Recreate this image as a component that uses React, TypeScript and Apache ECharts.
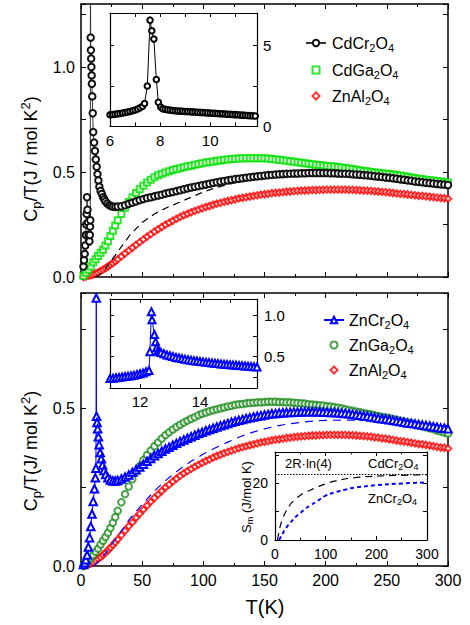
import React, { useEffect, useRef } from "react";
import * as echarts from "echarts";

// ---------------- data ----------------
const lowTemps = [2, 4, 6, 8, 10, 12, 14, 16, 18, 20, 22, 24, 26, 28];
const highTemps = [
  30, 33, 36, 39, 42, 45, 48, 51, 54, 57, 60, 63, 66, 69, 72, 75, 78, 81, 84, 87, 90, 93, 96, 99,
  102, 105, 108, 111, 114, 117, 120, 123, 126, 129, 132, 135, 138, 141, 144, 147, 150, 153, 156,
  159, 162, 165, 168, 171, 174, 177, 180, 183, 186, 189, 192, 195, 198, 201, 204, 207, 210, 213,
  216, 219, 222, 225, 228, 231, 234, 237, 240, 243, 246, 249, 252, 255, 258, 261, 264, 267, 270,
  273, 276, 279, 282, 285, 288, 291, 294, 297, 300,
];

const cdGaLow = [0.005, 0.02, 0.035, 0.05, 0.07, 0.085, 0.1, 0.115, 0.13, 0.15, 0.17, 0.195, 0.22, 0.245];
const cdGaHigh = [
  0.27, 0.30, 0.33, 0.357, 0.38, 0.40, 0.418, 0.435, 0.45, 0.463,
  0.475, 0.484, 0.492, 0.498, 0.504, 0.51, 0.514, 0.518, 0.523, 0.527,
  0.53, 0.534, 0.538, 0.542, 0.545, 0.548, 0.55, 0.553, 0.555, 0.558,
  0.56, 0.562, 0.563, 0.564, 0.565, 0.566, 0.566, 0.566, 0.566, 0.566,
  0.565, 0.564, 0.562, 0.56, 0.558, 0.556, 0.554, 0.551, 0.549, 0.546,
  0.544, 0.542, 0.539, 0.537, 0.535, 0.533, 0.531, 0.529, 0.527, 0.526,
  0.524, 0.522, 0.519, 0.517, 0.514, 0.511, 0.508, 0.505, 0.503, 0.5,
  0.498, 0.496, 0.494, 0.492, 0.49, 0.488, 0.486, 0.483, 0.48, 0.477,
  0.474, 0.471, 0.468, 0.466, 0.463, 0.461, 0.459, 0.457, 0.455, 0.452,
  0.45,
];

const znAlLow = [0, 0.002, 0.005, 0.008, 0.012, 0.017, 0.022, 0.028, 0.035, 0.042, 0.05, 0.058, 0.066, 0.075];
const znAlHigh = [
  0.084, 0.098, 0.112, 0.126, 0.139, 0.153, 0.166, 0.179, 0.192, 0.204,
  0.216, 0.227, 0.238, 0.249, 0.258, 0.268, 0.277, 0.286, 0.294, 0.301,
  0.308, 0.315, 0.321, 0.327, 0.333, 0.338, 0.344, 0.349, 0.353, 0.358,
  0.362, 0.366, 0.37, 0.374, 0.377, 0.38, 0.383, 0.386, 0.389, 0.392,
  0.394, 0.396, 0.399, 0.401, 0.402, 0.404, 0.406, 0.407, 0.409, 0.41,
  0.411, 0.412, 0.413, 0.414, 0.414, 0.415, 0.415, 0.416, 0.416, 0.416,
  0.416, 0.416, 0.416, 0.415, 0.415, 0.414, 0.413, 0.412, 0.411, 0.41,
  0.408, 0.407, 0.405, 0.404, 0.402, 0.4, 0.398, 0.396, 0.395, 0.393,
  0.391, 0.389, 0.387, 0.386, 0.384, 0.382, 0.38, 0.378, 0.376, 0.375,
  0.373,
];

const znGaLow = [0, 0.005, 0.015, 0.025, 0.035, 0.045, 0.055, 0.068, 0.08, 0.092, 0.105, 0.12, 0.137, 0.155];
const znGaHigh = [
  0.175, 0.202, 0.228, 0.252, 0.275, 0.297, 0.317, 0.336, 0.352, 0.366,
  0.38, 0.392, 0.404, 0.415, 0.424, 0.433, 0.441, 0.448, 0.455, 0.461,
  0.467, 0.472, 0.478, 0.483, 0.487, 0.491, 0.494, 0.497, 0.5, 0.503,
  0.506, 0.508, 0.511, 0.513, 0.514, 0.516, 0.517, 0.518, 0.519, 0.519,
  0.52, 0.521, 0.521, 0.521, 0.52, 0.52, 0.519, 0.519, 0.518, 0.517,
  0.516, 0.515, 0.513, 0.512, 0.511, 0.51, 0.509, 0.507, 0.506, 0.504,
  0.502, 0.5, 0.497, 0.495, 0.492, 0.49, 0.488, 0.485, 0.483, 0.481,
  0.478, 0.476, 0.473, 0.471, 0.469, 0.466, 0.464, 0.461, 0.458, 0.455,
  0.452, 0.449, 0.446, 0.443, 0.44, 0.437, 0.434, 0.43, 0.427, 0.423,
  0.42,
];

const cdCrLowT = [
  2, 2.5, 3, 3.5, 4, 4.3, 4.6, 4.9, 5.3, 5.7, 6.1, 6.5, 6.9, 7.2, 7.4, 7.6, 7.7, 7.9, 8.1, 8.3,
  8.5, 8.7, 8.9, 9.2, 9.6, 10, 10.7, 11.4, 12.1, 12.8, 13.5, 14.2, 15, 16, 17, 18, 19, 20, 21.5, 23,
  24.5, 26, 28, 30,
];
const cdCrLowCp = [
  0.05, 0.08, 0.11, 0.15, 0.2, 0.25, 0.3, 0.38, 0.32, 0.26, 0.2, 0.17, 0.17, 0.2, 0.24, 0.27, 1.6,
  1.14, 1.08, 1.04, 1.0, 0.96, 0.92, 0.86, 0.78, 0.69, 0.64, 0.6, 0.56, 0.525, 0.49, 0.46, 0.43, 0.41,
  0.395, 0.38, 0.37, 0.36, 0.35, 0.342, 0.338, 0.335, 0.334, 0.335,
];
const cdCrHighCp = [
  0.337, 0.342, 0.348, 0.354, 0.36, 0.366, 0.371, 0.376, 0.38, 0.384,
  0.388, 0.392, 0.397, 0.401, 0.405, 0.409, 0.413, 0.418, 0.422, 0.426,
  0.43, 0.433, 0.437, 0.44, 0.444, 0.448, 0.451, 0.454, 0.457, 0.46,
  0.463, 0.466, 0.468, 0.47, 0.473, 0.475, 0.477, 0.479, 0.481, 0.483,
  0.485, 0.486, 0.488, 0.489, 0.49, 0.491, 0.492, 0.493, 0.493, 0.494,
  0.494, 0.495, 0.495, 0.495, 0.495, 0.495, 0.495, 0.494, 0.494, 0.493,
  0.492, 0.492, 0.491, 0.489, 0.488, 0.487, 0.485, 0.484, 0.482, 0.48,
  0.478, 0.476, 0.474, 0.472, 0.47, 0.468, 0.465, 0.463, 0.46, 0.458,
  0.455, 0.453, 0.451, 0.449, 0.447, 0.445, 0.443, 0.441, 0.44, 0.438,
];

const znCrLowT = [
  2, 3, 4, 5, 6, 7, 8, 9, 10, 11, 11.7, 12.2, 12.5, 12.7, 13.1, 13.6, 14.2, 14.9, 15.7, 16.6,
  17.6, 18.8, 20.2, 22, 24, 26, 28, 30,
];
const znCrLowCp = [
  0.005, 0.01, 0.02, 0.035, 0.06, 0.09, 0.125, 0.165, 0.205, 0.245, 0.28, 0.31, 0.85, 0.475, 0.455,
  0.435, 0.41, 0.385, 0.36, 0.34, 0.32, 0.303, 0.29, 0.28, 0.273, 0.27, 0.27, 0.271,
];
const znCrHighCp = [
  0.276, 0.282, 0.289, 0.297, 0.305, 0.314, 0.323, 0.332, 0.341, 0.35,
  0.357, 0.364, 0.371, 0.377, 0.383, 0.389, 0.395, 0.4, 0.405, 0.41,
  0.415, 0.42, 0.424, 0.429, 0.433, 0.437, 0.441, 0.445, 0.448, 0.452,
  0.456, 0.459, 0.462, 0.465, 0.468, 0.47, 0.473, 0.475, 0.477, 0.479,
  0.481, 0.483, 0.484, 0.485, 0.486, 0.487, 0.487, 0.488, 0.488, 0.489,
  0.489, 0.489, 0.489, 0.489, 0.489, 0.488, 0.488, 0.487, 0.487, 0.486,
  0.485, 0.484, 0.483, 0.481, 0.48, 0.478, 0.476, 0.475, 0.473, 0.471,
  0.469, 0.467, 0.466, 0.464, 0.462, 0.46, 0.458, 0.456, 0.454, 0.453,
  0.451, 0.449, 0.447, 0.446, 0.444, 0.442, 0.44, 0.438, 0.437, 0.435,
];

const cdCrCalcT = [12, 15, 20, 25, 30, 35, 40, 50, 60, 70, 80, 90, 100, 110, 120, 130, 140, 150, 160, 170, 180, 200, 220, 240, 260, 280, 300];
const cdCrCalcCp = [0, 0.01, 0.04, 0.08, 0.12, 0.16, 0.2, 0.26, 0.3, 0.33, 0.355, 0.38, 0.405, 0.425, 0.44, 0.455, 0.465, 0.473, 0.48, 0.485, 0.49, 0.494, 0.49, 0.48, 0.466, 0.452, 0.438];
const znCrCalcT = [10, 12, 15, 20, 25, 30, 35, 40, 50, 60, 70, 80, 90, 100, 110, 120, 130, 140, 150, 160, 170, 180, 190, 200, 220, 240, 260, 280, 300];
const znCrCalcCp = [0, 0.005, 0.018, 0.04, 0.068, 0.095, 0.122, 0.15, 0.195, 0.238, 0.274, 0.305, 0.332, 0.355, 0.375, 0.393, 0.41, 0.424, 0.435, 0.444, 0.451, 0.456, 0.46, 0.462, 0.463, 0.462, 0.458, 0.452, 0.445];

const insetCdT = [
  6.0, 6.1, 6.2, 6.3, 6.4, 6.5, 6.6, 6.7, 6.8, 6.9, 7.0, 7.1, 7.2, 7.3,
  7.38, 7.49, 7.6, 7.67, 7.75, 7.85, 7.93, 8.02, 8.1,
  8.2, 8.3, 8.4, 8.5, 8.6, 8.7, 8.8, 8.9, 9.0, 9.1, 9.2, 9.3, 9.4, 9.5, 9.6, 9.7, 9.8, 9.9, 10.0,
  10.1, 10.2, 10.3, 10.4, 10.5, 10.6, 10.7, 10.8, 10.9, 11.0, 11.1, 11.2, 11.3, 11.4, 11.5, 11.6, 11.7, 11.8,
];
const insetCdCp = [
  0.72, 0.74, 0.76, 0.78, 0.8, 0.83, 0.86, 0.89, 0.93, 0.97, 1.02, 1.08, 1.15, 1.25,
  1.42, 2.5, 6.56, 5.9, 5.4, 2.9, 1.5, 1.2, 1.1,
  1.06, 1.03, 1.01, 0.99, 0.97, 0.96, 0.95, 0.94, 0.93, 0.92, 0.91, 0.9, 0.89, 0.88, 0.87, 0.86, 0.85,
  0.84, 0.83, 0.82, 0.81, 0.8, 0.79, 0.78, 0.77, 0.76, 0.75, 0.74, 0.73, 0.72, 0.71, 0.7, 0.69, 0.68, 0.67, 0.66, 0.65,
];

const insetZnT = [
  11.0, 11.1, 11.2, 11.3, 11.4, 11.5, 11.6, 11.7, 11.8, 11.9, 12.0, 12.1, 12.2, 12.3,
  12.33, 12.38, 12.4, 12.48, 12.52, 12.56, 12.6, 12.65,
  12.7, 12.8, 12.9, 13.0, 13.1, 13.2, 13.3, 13.4, 13.5, 13.6, 13.7, 13.8, 13.9, 14.0, 14.1, 14.2, 14.3,
  14.4, 14.5, 14.6, 14.7, 14.8, 14.9, 15.0, 15.1, 15.2, 15.3, 15.4, 15.5, 15.6, 15.7, 15.8, 15.9,
];
const insetZnCp = [
  0.23, 0.235, 0.24, 0.245, 0.25, 0.255, 0.26, 0.265, 0.27, 0.28, 0.29, 0.3, 0.315, 0.33,
  0.56, 1.05, 0.95, 0.77, 0.68, 0.61, 0.57, 0.56,
  0.55, 0.535, 0.52, 0.51, 0.5, 0.49, 0.482, 0.475, 0.468, 0.462, 0.456, 0.45, 0.445, 0.44, 0.435,
  0.43, 0.426, 0.422, 0.418, 0.414, 0.41, 0.406, 0.402, 0.399, 0.396, 0.393, 0.39, 0.387, 0.384,
  0.381, 0.378, 0.375, 0.372,
];

const entropyCdT = [5, 10, 15, 20, 30, 40, 50, 60, 70, 80, 100, 120, 150, 200, 250, 300];
const entropyCdS = [0, 4.6, 7.5, 9.5, 12.5, 14.3, 15.8, 16.8, 17.6, 18.4, 19.8, 20.8, 21.8, 22.5, 22.8, 23.0];
const entropyZnT = [8, 12, 16, 20, 30, 40, 50, 60, 70, 80, 100, 120, 140, 160, 200, 250, 300];
const entropyZnS = [0, 1.2, 2.5, 3.8, 6.0, 8.0, 9.5, 11.0, 12.2, 13.3, 15.6, 16.9, 17.8, 18.5, 19.3, 19.9, 20.3];
const twoRln4 = 23.05;

// tick labels
const mainXLabels = [0, 50, 100, 150, 200, 250, 300];
const topYLabels = [0, 0.5, 1.0];
const bottomYLabels = [0, 0.5];
const insetCdXLabels = [6, 8, 10];
const insetCdYLabels = [0, 5];
const insetZnXLabels = [12, 14];
const insetZnYTicks = [0.25, 0.5, 0.75, 1.0];
const insetZnYLabels = [0.5, 1.0];
const entropyXLabels = [0, 100, 200, 300];
const entropyYLabels = [0, 20];

// ---------------- helpers ----------------
const FONT = "'Liberation Sans', Arial, Helvetica, sans-serif";
const pairs = (xs: number[], ys: number[]) => xs.map((x, i) => [x, ys[i]]);
const formula = (name: string) =>
  ("{n|" + name.replace(/(\d)/g, "}{s|$1}{n|") + "}").replace(/\{n\|\}/g, "");

type AxisOpt = {
  grid: number;
  position: string;
  min: number;
  max: number;
  interval?: number;
  minor?: number;
  labels?: number[] | null;
  digits?: number;
  fontSize?: number;
  margin?: number;
  lw?: number;
  tick?: number;
  tickValues?: number[];
  labelValues?: number[];
};

function valAxis(o: AxisOpt) {
  const tick = o.tick ?? 5;
  const lbl = o.labels;
  const axis: any = {
    type: "value",
    gridIndex: o.grid,
    position: o.position,
    min: o.min,
    max: o.max,
    axisLine: { show: true, onZero: false, lineStyle: { color: "#000", width: o.lw ?? 1.5 } },
    axisTick: { show: true, inside: true, length: tick, lineStyle: { color: "#000", width: 1 } },
    minorTick: o.minor
      ? { show: true, splitNumber: o.minor, length: tick * 0.6, lineStyle: { color: "#000", width: 1 } }
      : { show: false },
    splitLine: { show: false },
    minorSplitLine: { show: false },
    axisPointer: { show: false },
    axisLabel: lbl
      ? {
          show: true,
          fontSize: o.fontSize ?? 16,
          fontFamily: FONT,
          color: "#000",
          margin: o.margin ?? 6,
          showMinLabel: true,
          showMaxLabel: true,
          hideOverlap: false,
          formatter: (v: number) =>
            lbl.some((l) => Math.abs(l - v) < 1e-6) ? v.toFixed(o.digits ?? 0) : "",
        }
      : { show: false },
  };
  if (o.interval !== undefined) axis.interval = o.interval;
  if (o.tickValues) axis.axisTick.customValues = o.tickValues;
  if (o.labelValues && lbl) axis.axisLabel.customValues = o.labelValues;
  return axis;
}

const legendRich = {
  n: { fontSize: 16, fontFamily: FONT, color: "#000" },
  s: { fontSize: 11, fontFamily: FONT, color: "#000", padding: [9, 0, 0, 0] },
};
// iconX: centre of the legend icon, textX: left edge of the text, rowY: row centre
const makeLegend = (name: string, iconX: number, textX: number, rowY: number, withLine: boolean) => {
  const w = withLine ? 20 : 7;
  const h = withLine ? 8 : 7;
  const left = iconX - w / 2;
  return {
    show: true,
    data: [name],
    left,
    top: rowY - 10,
    padding: 0,
    itemWidth: w,
    itemHeight: h,
    itemGap: 0,
    symbolKeepAspect: true,
    selectedMode: false,
    formatter: (n: string) => formula(n),
    textStyle: {
      fontSize: 16,
      fontFamily: FONT,
      color: "#000",
      rich: legendRich,
      padding: [0, 0, 0, Math.max(0, textX - (left + w + 5))],
    },
  };
};

const titleRich = {
  n: { fontSize: 18, fontFamily: FONT, color: "#000" },
  s: { fontSize: 13, fontFamily: FONT, color: "#000", padding: [11, 0, 0, 0] },
  u: { fontSize: 13, fontFamily: FONT, color: "#000", padding: [0, 0, 11, 0] },
};
const xTitleRich = {
  n: { fontSize: 20, fontFamily: FONT, color: "#000" },
};
const smallRich = {
  n: { fontSize: 13, fontFamily: FONT, color: "#000" },
  s: { fontSize: 9, fontFamily: FONT, color: "#000", padding: [7, 0, 0, 0] },
};
const textEl = (text: string, x: number, y: number, rich: any, align: string, rot = 0) => ({
  type: "text",
  x,
  y,
  rotation: rot,
  z: 100,
  style: {
    text,
    rich,
    fontFamily: FONT,
    fill: "#000",
    textAlign: align,
    align,
    textVerticalAlign: "middle",
    verticalAlign: "middle",
  },
});

const option: any = {
  animation: false,
  backgroundColor: "#fff",
  grid: [
    { left: 81, top: 4, width: 367, height: 273, outerBoundsMode: "none" },
    { left: 81, top: 293, width: 367, height: 273, outerBoundsMode: "none" },
    { left: 110, top: 13, width: 147, height: 113.5, outerBoundsMode: "none" },
    { left: 110, top: 299, width: 147, height: 89, outerBoundsMode: "none" },
    { left: 275, top: 452, width: 152, height: 88, outerBoundsMode: "none" },
  ],
  xAxis: [
    valAxis({ grid: 0, position: "bottom", min: 0, max: 300, interval: 50, minor: 2 }),
    valAxis({ grid: 0, position: "top", min: 0, max: 300, interval: 50, minor: 2 }),
    valAxis({ grid: 1, position: "bottom", min: 0, max: 300, interval: 50, minor: 2, labels: mainXLabels, fontSize: 16, margin: 6 }),
    valAxis({ grid: 1, position: "top", min: 0, max: 300, interval: 50, minor: 2 }),
    valAxis({ grid: 2, position: "bottom", min: 6, max: 11.87, interval: 1, labels: insetCdXLabels, fontSize: 15, margin: 6, lw: 1.2, tick: 4 }),
    valAxis({ grid: 2, position: "top", min: 6, max: 11.87, interval: 1, lw: 1.2, tick: 4 }),
    valAxis({ grid: 3, position: "bottom", min: 11, max: 15.9, interval: 1, labels: insetZnXLabels, fontSize: 15, margin: 6, lw: 1.2, tick: 4 }),
    valAxis({ grid: 3, position: "top", min: 11, max: 15.9, interval: 1, lw: 1.2, tick: 4 }),
    valAxis({ grid: 4, position: "bottom", min: 0, max: 300, interval: 100, minor: 2, labels: entropyXLabels, fontSize: 14, margin: 7, lw: 1.2, tick: 4 }),
    valAxis({ grid: 4, position: "top", min: 0, max: 300, interval: 100, minor: 2, lw: 1.2, tick: 4 }),
  ],
  yAxis: [
    valAxis({ grid: 0, position: "left", min: 0, max: 1.3, interval: 0.25, labels: topYLabels, digits: 1, fontSize: 16, margin: 6 }),
    valAxis({ grid: 0, position: "right", min: 0, max: 1.3, interval: 0.25 }),
    valAxis({ grid: 1, position: "left", min: 0, max: 0.866, interval: 0.25, labels: bottomYLabels, digits: 1, fontSize: 16, margin: 6 }),
    valAxis({ grid: 1, position: "right", min: 0, max: 0.866, interval: 0.25 }),
    valAxis({ grid: 2, position: "right", min: 0, max: 7, interval: 2.5, labels: insetCdYLabels, digits: 0, fontSize: 15, margin: 6, lw: 1.2, tick: 4 }),
    valAxis({ grid: 2, position: "left", min: 0, max: 7, interval: 2.5, lw: 1.2, tick: 4 }),
    valAxis({ grid: 3, position: "right", min: 0.115, max: 1.205, labels: insetZnYLabels, digits: 1, fontSize: 15, margin: 7, lw: 1.2, tick: 4, tickValues: insetZnYTicks, labelValues: insetZnYLabels }),
    valAxis({ grid: 3, position: "left", min: 0.115, max: 1.205, lw: 1.2, tick: 4, tickValues: insetZnYTicks }),
    valAxis({ grid: 4, position: "left", min: 0, max: 31, interval: 10, labels: entropyYLabels, digits: 0, fontSize: 14, margin: 7, lw: 1.2, tick: 4 }),
    valAxis({ grid: 4, position: "right", min: 0, max: 31, interval: 10, lw: 1.2, tick: 4 }),
  ],
  legend: [
    makeLegend("CdCr2O4", 315, 331, 45, true),
    makeLegend("CdGa2O4", 315, 331, 72, false),
    makeLegend("ZnAl2O4", 315, 331, 98, false),
    makeLegend("ZnCr2O4", 333, 348, 322, true),
    makeLegend("ZnGa2O4", 333, 348, 347, false),
    makeLegend("ZnAl2O4", 333, 348, 372, false),
  ],
  series: [
    // ---- top panel ----
    {
      type: "line", name: "CdCr2O4 calc", xAxisIndex: 0, yAxisIndex: 0,
      data: pairs(cdCrCalcT, cdCrCalcCp), symbol: "none", clip: true,
      lineStyle: { color: "#000", width: 1.2, type: [7, 5] },
    },
    {
      type: "scatter", name: "ZnAl2O4", xAxisIndex: 0, yAxisIndex: 0,
      data: pairs(lowTemps.concat(highTemps), znAlLow.concat(znAlHigh)),
      symbol: "emptyDiamond", symbolSize: 6.5,
      itemStyle: { color: "#ff0000", borderWidth: 1 },
    },
    {
      type: "scatter", name: "CdGa2O4", xAxisIndex: 0, yAxisIndex: 0,
      data: pairs(lowTemps.concat(highTemps), cdGaLow.concat(cdGaHigh)),
      symbol: "emptyRect", symbolSize: 6,
      itemStyle: { color: "#00e000", borderWidth: 1 },
    },
    {
      type: "line", name: "CdCr2O4", xAxisIndex: 0, yAxisIndex: 0,
      data: pairs(cdCrLowT.concat(highTemps.slice(1)), cdCrLowCp.concat(cdCrHighCp)),
      symbol: "emptyCircle", symbolSize: 6.5, showAllSymbol: true, clip: true,
      lineStyle: { color: "#333", width: 1 },
      itemStyle: { color: "#111", borderWidth: 1 },
    },
    // ---- bottom panel ----
    {
      type: "line", name: "ZnCr2O4 calc", xAxisIndex: 2, yAxisIndex: 2,
      data: pairs(znCrCalcT, znCrCalcCp), symbol: "none", clip: true,
      lineStyle: { color: "#0000ff", width: 1.2, type: [8, 6] },
    },
    {
      type: "scatter", name: "ZnAl2O4", xAxisIndex: 2, yAxisIndex: 2,
      data: pairs(lowTemps.concat(highTemps), znAlLow.concat(znAlHigh)),
      symbol: "emptyDiamond", symbolSize: 6.5,
      itemStyle: { color: "#ff0000", borderWidth: 1 },
    },
    {
      type: "scatter", name: "ZnGa2O4", xAxisIndex: 2, yAxisIndex: 2,
      data: pairs(lowTemps.concat(highTemps), znGaLow.concat(znGaHigh)),
      symbol: "emptyCircle", symbolSize: 6.5,
      itemStyle: { color: "#1a8a1a", borderWidth: 1 },
    },
    {
      type: "line", name: "ZnCr2O4", xAxisIndex: 2, yAxisIndex: 2,
      data: pairs(znCrLowT.concat(highTemps.slice(1)), znCrLowCp.concat(znCrHighCp)),
      symbol: "emptyTriangle", symbolSize: 7.5, showAllSymbol: true, clip: true,
      lineStyle: { color: "#0000ff", width: 1 },
      itemStyle: { color: "#0000ff", borderWidth: 1 },
    },
    // ---- top inset ----
    {
      type: "line", name: "inset Cd", xAxisIndex: 4, yAxisIndex: 4,
      data: pairs(insetCdT, insetCdCp), symbol: "emptyCircle", symbolSize: 5.5,
      showAllSymbol: true, clip: true,
      lineStyle: { color: "#000", width: 1 },
      itemStyle: { color: "#000", borderWidth: 1 },
    },
    // ---- bottom inset ----
    {
      type: "line", name: "inset Zn", xAxisIndex: 6, yAxisIndex: 6,
      data: pairs(insetZnT, insetZnCp), symbol: "emptyTriangle", symbolSize: 7,
      showAllSymbol: true, clip: true,
      lineStyle: { color: "#0000ff", width: 1 },
      itemStyle: { color: "#0000ff", borderWidth: 1 },
    },
    // ---- entropy inset ----
    {
      type: "line", name: "S Cd", xAxisIndex: 8, yAxisIndex: 8,
      data: pairs(entropyCdT, entropyCdS), symbol: "none", smooth: true, clip: true,
      lineStyle: { color: "#000", width: 1.2, type: [7, 5] },
      markLine: {
        silent: true, symbol: ["none", "none"], label: { show: false },
        lineStyle: { color: "#000", width: 1, type: [1.5, 1.5] },
        data: [{ yAxis: twoRln4 }],
      },
    },
    {
      type: "line", name: "S Zn", xAxisIndex: 8, yAxisIndex: 8,
      data: pairs(entropyZnT, entropyZnS), symbol: "none", smooth: true, clip: true,
      lineStyle: { color: "#0000ff", width: 2, type: [4, 3] },
    },
  ],
  graphic: [
    textEl("{n|C}{s|p}{n|/T(J / mol K}{u|2}{n|)}", 30.5, 159, titleRich, "center", Math.PI / 2),
    textEl("{n|C}{s|p}{n|/T(J/ mol K}{u|2}{n|)}", 30.5, 451, titleRich, "center", Math.PI / 2),
    textEl("{n|T(K)}", 265, 607, xTitleRich, "center"),
    textEl("{n|S}{s|m}{n| (J/mol K)}", 246, 497, smallRich, "center", Math.PI / 2),
    textEl("{n|2R·ln(4)}", 285, 463, smallRich, "left"),
    textEl(formula("CdCr2O4"), 368, 463, smallRich, "left"),
    textEl(formula("ZnCr2O4"), 368, 498, smallRich, "left"),
  ],
};

export default function App() {
  const ref = useRef<HTMLDivElement>(null);
  useEffect(() => {
    if (!ref.current) return;
    const chart = echarts.init(ref.current, null, { renderer: "svg" });
    chart.setOption(option);
    return () => chart.dispose();
  }, []);
  return (
    <div
      ref={ref}
      style={{ width: 470, height: 625, position: "absolute", left: 0, top: 0, background: "#fff" }}
    />
  );
}
